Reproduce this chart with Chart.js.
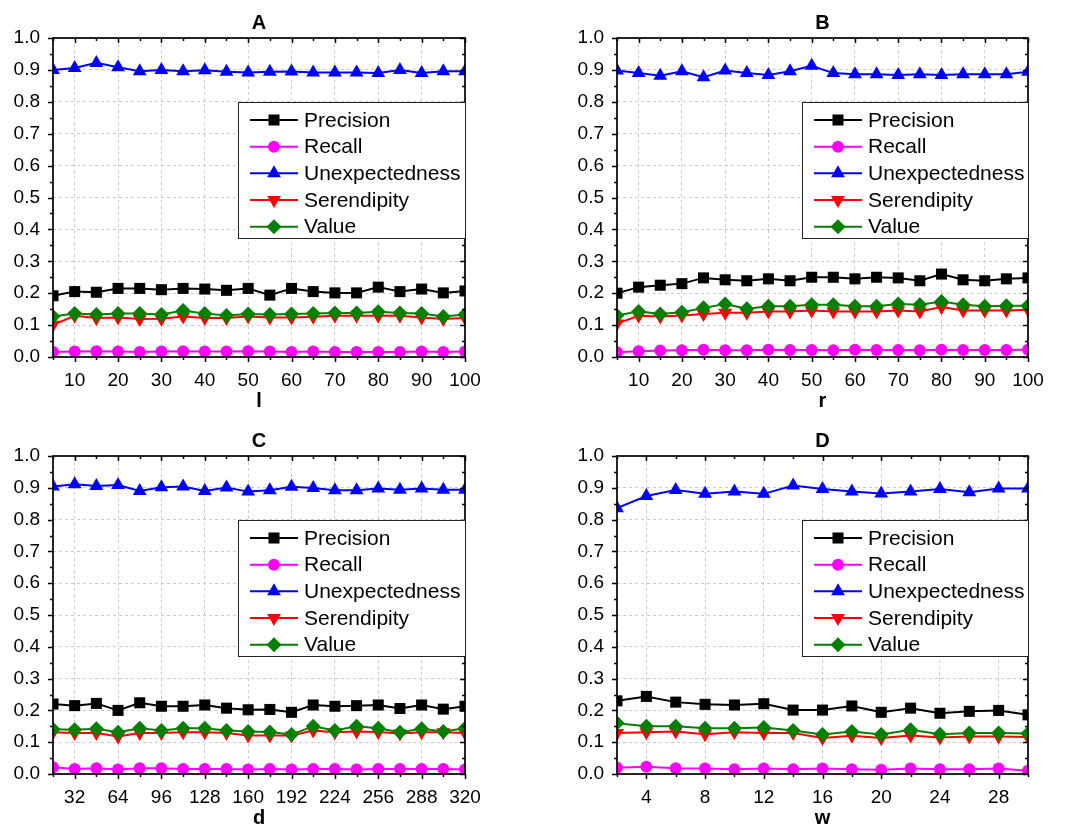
<!DOCTYPE html>
<html>
<head>
<meta charset="utf-8">
<script src="https://cdn.jsdelivr.net/npm/chart.js@4.4.0/dist/chart.umd.min.js"></script>
<style>
  html, body { margin: 0; padding: 0; background: #ffffff; }
  #wrap { position: relative; width: 1076px; height: 826px; overflow: hidden; }
  #wrap canvas { position: absolute; }
</style>
</head>
<body>
<div id="wrap">
  <canvas id="chartA" width="538" height="413" style="left:0px;top:0px"></canvas>
  <canvas id="chartB" width="538" height="413" style="left:538px;top:0px"></canvas>
  <canvas id="chartC" width="538" height="413" style="left:0px;top:413px"></canvas>
  <canvas id="chartD" width="538" height="413" style="left:538px;top:413px"></canvas>
</div>
<script>
// ---- metric names (legend order) ----
const seriesNames = ['Precision', 'Recall', 'Unexpectedness', 'Serendipity', 'Value'];

// ---- shared y axis ticks ----
const yTicks = [0.0, 0.1, 0.2, 0.3, 0.4, 0.5, 0.6, 0.7, 0.8, 0.9, 1.0];

// ---- panel A: parameter l ----
const lValues = [5, 10, 15, 20, 25, 30, 35, 40, 45, 50, 55, 60, 65, 70, 75, 80, 85, 90, 95, 100];
const lTicks = [10, 20, 30, 40, 50, 60, 70, 80, 90, 100];
const lPrecision = [0.192, 0.205, 0.203, 0.215, 0.215, 0.211, 0.215, 0.213, 0.209, 0.215, 0.194, 0.215, 0.205, 0.201, 0.201, 0.219, 0.205, 0.213, 0.201, 0.207];
const lRecall = [0.016, 0.017, 0.018, 0.017, 0.016, 0.017, 0.018, 0.017, 0.017, 0.018, 0.017, 0.016, 0.017, 0.016, 0.016, 0.016, 0.016, 0.017, 0.016, 0.017];
const lUnexpectedness = [0.900, 0.906, 0.922, 0.908, 0.896, 0.900, 0.896, 0.899, 0.894, 0.892, 0.894, 0.895, 0.892, 0.892, 0.892, 0.890, 0.900, 0.890, 0.896, 0.896];
const lSerendipity = [0.101, 0.129, 0.122, 0.124, 0.119, 0.120, 0.127, 0.122, 0.122, 0.127, 0.124, 0.124, 0.126, 0.129, 0.129, 0.129, 0.129, 0.124, 0.119, 0.122];
const lValue = [0.127, 0.136, 0.133, 0.136, 0.136, 0.133, 0.146, 0.136, 0.130, 0.135, 0.133, 0.135, 0.136, 0.138, 0.138, 0.142, 0.138, 0.136, 0.127, 0.133];

// ---- panel B: parameter r ----
const rValues = [5, 10, 15, 20, 25, 30, 35, 40, 45, 50, 55, 60, 65, 70, 75, 80, 85, 90, 95, 100];
const rTicks = [10, 20, 30, 40, 50, 60, 70, 80, 90, 100];
const rPrecision = [0.200, 0.219, 0.225, 0.230, 0.248, 0.242, 0.239, 0.245, 0.239, 0.250, 0.250, 0.245, 0.250, 0.248, 0.239, 0.260, 0.242, 0.239, 0.245, 0.248];
const rRecall = [0.015, 0.018, 0.020, 0.021, 0.023, 0.021, 0.021, 0.023, 0.022, 0.022, 0.021, 0.023, 0.022, 0.022, 0.021, 0.023, 0.022, 0.022, 0.022, 0.023];
const rUnexpectedness = [0.898, 0.890, 0.882, 0.896, 0.877, 0.898, 0.890, 0.884, 0.896, 0.913, 0.890, 0.886, 0.886, 0.884, 0.886, 0.884, 0.886, 0.886, 0.886, 0.894];
const rSerendipity = [0.105, 0.129, 0.127, 0.130, 0.135, 0.139, 0.139, 0.143, 0.143, 0.146, 0.143, 0.143, 0.143, 0.146, 0.143, 0.157, 0.146, 0.146, 0.146, 0.148];
const rValue = [0.130, 0.143, 0.135, 0.140, 0.154, 0.166, 0.151, 0.159, 0.159, 0.164, 0.164, 0.159, 0.159, 0.166, 0.164, 0.174, 0.164, 0.159, 0.161, 0.161];

// ---- panel C: parameter d ----
const dValues = [16, 32, 48, 64, 80, 96, 112, 128, 144, 160, 176, 192, 208, 224, 240, 256, 272, 288, 304, 320];
const dTicks = [32, 64, 96, 128, 160, 192, 224, 256, 288, 320];
const dPrecision = [0.220, 0.215, 0.222, 0.200, 0.224, 0.213, 0.213, 0.217, 0.207, 0.202, 0.203, 0.194, 0.217, 0.213, 0.215, 0.217, 0.206, 0.217, 0.204, 0.213];
const dRecall = [0.021, 0.016, 0.018, 0.014, 0.018, 0.018, 0.016, 0.016, 0.016, 0.014, 0.016, 0.014, 0.016, 0.016, 0.014, 0.016, 0.016, 0.016, 0.016, 0.014];
const dUnexpectedness = [0.904, 0.911, 0.906, 0.909, 0.890, 0.902, 0.904, 0.890, 0.901, 0.888, 0.892, 0.903, 0.899, 0.892, 0.892, 0.898, 0.894, 0.898, 0.894, 0.894];
const dSerendipity = [0.131, 0.129, 0.129, 0.118, 0.129, 0.129, 0.131, 0.131, 0.129, 0.121, 0.121, 0.121, 0.137, 0.131, 0.134, 0.132, 0.127, 0.131, 0.131, 0.129];
const dValue = [0.141, 0.139, 0.142, 0.131, 0.144, 0.137, 0.144, 0.144, 0.137, 0.134, 0.132, 0.124, 0.150, 0.137, 0.150, 0.144, 0.131, 0.142, 0.134, 0.144];

// ---- panel D: parameter w ----
const wValues = [2, 4, 6, 8, 10, 12, 14, 16, 18, 20, 22, 24, 26, 28, 30];
const wTicks = [4, 8, 12, 16, 20, 24, 28];
const wPrecision = [0.230, 0.244, 0.226, 0.219, 0.217, 0.221, 0.201, 0.201, 0.214, 0.194, 0.207, 0.191, 0.197, 0.200, 0.186];
const wRecall = [0.020, 0.023, 0.018, 0.017, 0.015, 0.017, 0.015, 0.017, 0.015, 0.013, 0.017, 0.015, 0.015, 0.017, 0.010];
const wUnexpectedness = [0.836, 0.874, 0.893, 0.881, 0.888, 0.881, 0.907, 0.896, 0.888, 0.882, 0.888, 0.896, 0.886, 0.898, 0.898];
const wSerendipity = [0.129, 0.131, 0.134, 0.125, 0.131, 0.129, 0.129, 0.113, 0.120, 0.113, 0.121, 0.115, 0.118, 0.118, 0.116];
const wValue = [0.160, 0.150, 0.150, 0.144, 0.144, 0.146, 0.137, 0.124, 0.134, 0.124, 0.139, 0.125, 0.129, 0.129, 0.127];

// ---- look ----
const FONT = "'Liberation Sans', Arial, Helvetica, sans-serif";
const seriesStyles = [
  { color: '#000000', pointStyle: 'rect',     radius: 7.8, rotation: 0 },
  { color: '#FF00FF', pointStyle: 'circle',   radius: 6,   rotation: 0 },
  { color: '#0000FF', pointStyle: 'triangle', radius: 8,   rotation: 0 },
  { color: '#FF0000', pointStyle: 'triangle', radius: 8,   rotation: 180 },
  { color: '#008000', pointStyle: 'rectRot',  radius: 7.5, rotation: 0 }
];

// Frame with Origin-style ticks: outward on left/bottom, inward on top/right, plus minor ticks
const framePlugin = {
  id: 'frameTicks',
  afterDatasetsDraw(chart, args, o) {
    const { ctx, chartArea: a, scales: { x, y } } = chart;
    const majLen = 5, minLen = 3;
    ctx.save();
    ctx.strokeStyle = '#000';
    ctx.lineWidth = 1.5;
    ctx.setLineDash([]);
    ctx.beginPath();
    const xMajor = x.ticks.map(t => t.value);
    const yMajor = y.ticks.map(t => t.value);
    const isMajor = (list, v) => list.some(m => Math.abs(m - v) < 1e-9);
    const drawX = (v, len) => {
      const px = Math.round(x.getPixelForValue(v)) + 0.5;
      ctx.moveTo(px, a.bottom); ctx.lineTo(px, a.bottom + len);
      ctx.moveTo(px, a.top); ctx.lineTo(px, a.top + len);
    };
    const drawY = (v, len) => {
      const py = Math.round(y.getPixelForValue(v)) + 0.5;
      ctx.moveTo(a.left, py); ctx.lineTo(a.left - len, py);
      ctx.moveTo(a.right, py); ctx.lineTo(a.right - len, py);
    };
    xMajor.forEach(v => drawX(v, majLen));
    for (let k = 0; x.min + k * o.xMinor <= x.max + 1e-9; k++) {
      const v = x.min + k * o.xMinor;
      if (!isMajor(xMajor, v)) drawX(v, minLen);
    }
    yMajor.forEach(v => drawY(v, majLen));
    for (let k = 0; y.min + k * o.yMinor <= y.max + 1e-9; k++) {
      const v = y.min + k * o.yMinor;
      if (!isMajor(yMajor, v)) drawY(v, minLen);
    }
    ctx.stroke();
    ctx.lineWidth = 1.7;
    ctx.strokeRect(a.left, a.top, a.right - a.left, a.bottom - a.top);
    ctx.restore();
  }
};

// Boxed legend inside the plot, anchored to the right border
const boxLegendPlugin = {
  id: 'boxLegend',
  afterDraw(chart, args, o) {
    const { ctx, chartArea: a } = chart;
    const left = a.right - o.width;
    const top = a.top + o.offsetTop;
    ctx.save();
    ctx.fillStyle = '#ffffff';
    ctx.fillRect(left, top, o.width, o.height);
    ctx.strokeStyle = '#222';
    ctx.lineWidth = 1;
    ctx.strokeRect(Math.round(left) + 0.5, Math.round(top) + 0.5, o.width, o.height);
    ctx.font = o.fontSize + 'px ' + FONT;
    ctx.textBaseline = 'middle';
    ctx.textAlign = 'left';
    chart.data.datasets.forEach((ds, i) => {
      const cy = top + o.firstRow + i * o.rowGap;
      const x0 = left + o.lineStart, x1 = x0 + o.lineLen;
      ctx.strokeStyle = ds.borderColor;
      ctx.lineWidth = 2;
      ctx.beginPath(); ctx.moveTo(x0, cy); ctx.lineTo(x1, cy); ctx.stroke();
      ctx.fillStyle = ds.pointBackgroundColor;
      Chart.helpers.drawPoint(ctx, {
        pointStyle: ds.pointStyle, radius: ds.pointRadius, rotation: ds.pointRotation, borderWidth: 0
      }, (x0 + x1) / 2, cy);
      ctx.fillStyle = '#000';
      ctx.fillText(ds.label, left + o.textStart, cy + 1);
    });
    ctx.restore();
  }
};

const panels = [
  { id: 'chartA', title: 'A', axisTitle: 'l', xs: lValues, xTicks: lTicks, xMin: 5, xMax: 100, xMinor: 5,
    series: [lPrecision, lRecall, lUnexpectedness, lSerendipity, lValue],
    box: { left: 53, top: 38, right: 465, bottom: 357 }, legendWidth: 227 },
  { id: 'chartB', title: 'B', axisTitle: 'r', xs: rValues, xTicks: rTicks, xMin: 5, xMax: 100, xMinor: 5,
    series: [rPrecision, rRecall, rUnexpectedness, rSerendipity, rValue],
    box: { left: 79, top: 38, right: 490, bottom: 357 }, legendWidth: 226 },
  { id: 'chartC', title: 'C', axisTitle: 'd', xs: dValues, xTicks: dTicks, xMin: 16, xMax: 320, xMinor: 16,
    series: [dPrecision, dRecall, dUnexpectedness, dSerendipity, dValue],
    box: { left: 53, top: 43, right: 465, bottom: 361 }, legendWidth: 227 },
  { id: 'chartD', title: 'D', axisTitle: 'w', xs: wValues, xTicks: wTicks, xMin: 2, xMax: 30, xMinor: 2,
    series: [wPrecision, wRecall, wUnexpectedness, wSerendipity, wValue],
    box: { left: 79, top: 43, right: 490, bottom: 361 }, legendWidth: 226 }
];

function makePanel(p) {
  const canvas = document.getElementById(p.id);
  const W = canvas.width, H = canvas.height;
  const b = p.box;
  const titleCenter = b.top - 15;
  const titlePadTop = titleCenter - 12;
  const titlePadBottom = b.top - titlePadTop - 24;
  const axisTitleCenter = b.bottom + 44;
  const axisTitlePadBottom = Math.max(0, H - axisTitleCenter - 8);

  const datasets = p.series.map((vals, i) => {
    const s = seriesStyles[i];
    return {
      label: seriesNames[i],
      data: p.xs.map((xv, k) => ({ x: xv, y: vals[k] })),
      borderColor: s.color,
      backgroundColor: s.color,
      pointBackgroundColor: s.color,
      pointBorderColor: s.color,
      pointBorderWidth: 0,
      pointStyle: s.pointStyle,
      pointRadius: s.radius,
      pointRotation: s.rotation,
      borderWidth: 2,
      tension: 0,
      order: seriesNames.length - i
    };
  });

  const gridOpts = { color: '#cccccc', lineWidth: 1, drawTicks: false };
  const tickFont = { family: FONT, size: 19 };

  return new Chart(canvas, {
    type: 'line',
    data: { datasets },
    options: {
      responsive: false,
      animation: false,
      events: [],
      layout: { padding: { left: 0, top: 0, right: W - b.right, bottom: 0 } },
      plugins: {
        legend: { display: false },
        tooltip: { enabled: false },
        title: {
          display: true, text: p.title, color: '#000', fullSize: false,
          font: { family: FONT, size: 20, weight: 'bold', lineHeight: 1.2 },
          padding: { top: titlePadTop, bottom: titlePadBottom }
        },
        frameTicks: { xMinor: p.xMinor, yMinor: 0.05 },
        boxLegend: {
          width: p.legendWidth, height: 136, offsetTop: 64, firstRow: 18, rowGap: 26.67,
          lineStart: 12, lineLen: 48, textStart: 66, fontSize: 21
        }
      },
      scales: {
        x: {
          type: 'linear', min: p.xMin, max: p.xMax,
          afterBuildTicks: s => { s.ticks = p.xTicks.map(v => ({ value: v })); },
          afterFit: s => { s.height = H - b.bottom; },
          grid: gridOpts,
          border: { display: false, dash: [3, 3] },
          ticks: { color: '#000', font: tickFont, padding: 12, maxRotation: 0, autoSkip: false,
                   callback: v => String(v) },
          title: { display: true, text: p.axisTitle, color: '#000',
                   font: { family: FONT, size: 20, weight: 'bold', lineHeight: 0.8 },
                   padding: { top: 0, bottom: axisTitlePadBottom } }
        },
        y: {
          type: 'linear', min: 0, max: 1,
          afterBuildTicks: s => { s.ticks = yTicks.map(v => ({ value: v })); },
          afterFit: s => { s.width = b.left; },
          grid: gridOpts,
          border: { display: false, dash: [3, 3] },
          ticks: { color: '#000', font: tickFont, padding: 13, callback: v => Number(v).toFixed(1) }
        }
      }
    },
    plugins: [framePlugin, boxLegendPlugin]
  });
}

panels.forEach(makePanel);
</script>
</body>
</html>
